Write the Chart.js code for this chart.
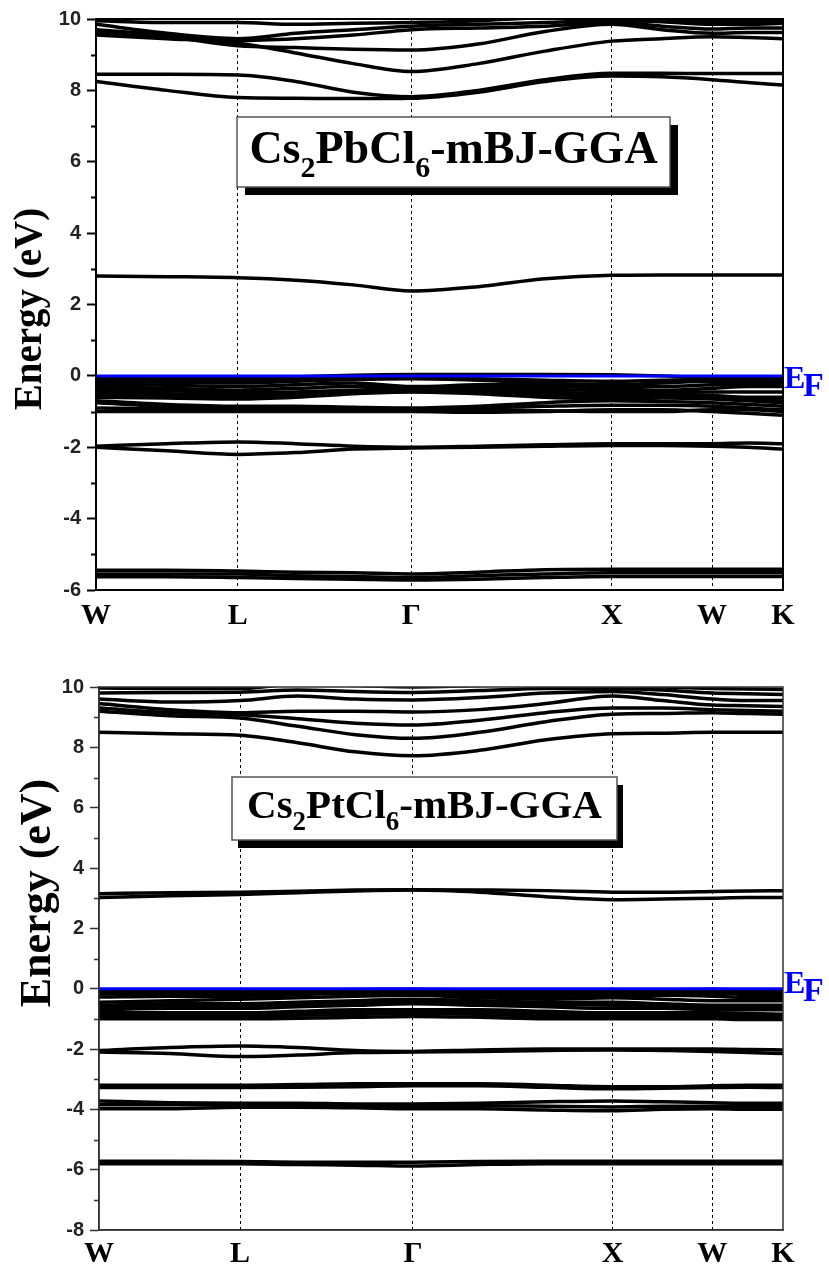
<!DOCTYPE html>
<html>
<head>
<meta charset="utf-8">
<script src="https://cdn.jsdelivr.net/npm/chart.js@4.4.1/dist/chart.umd.min.js"></script>
<style>
  html, body { margin: 0; padding: 0; background: #fff; }
  canvas { position: absolute; left: 0; }
  #pbChart { top: 0; }
  #ptChart { top: 640px; }
</style>
</head>
<body>
<canvas id="pbChart" width="829" height="640"></canvas>
<canvas id="ptChart" width="829" height="628"></canvas>
<script>
// k-path W-L-Γ-X-W-K (distance in 2π/a)
const kLabels = ['W', 'L', 'Γ', 'X', 'W', 'K'];
const kTicks = [0, 0.707, 1.573, 2.573, 3.073, 3.427];
const kPath = [0, 0.354, 0.707, 0.996, 1.284, 1.573, 1.906, 2.240, 2.573, 2.823, 3.073, 3.250, 3.427];
const efLevel = 0;

// ---- Cs2PbCl6 bands (eV), values at kPath ----
const pbCore = [
  [-5.45, -5.45, -5.47, -5.50, -5.52, -5.55, -5.50, -5.43, -5.42, -5.42, -5.42, -5.42, -5.42],
  [-5.55, -5.55, -5.55, -5.60, -5.62, -5.65, -5.60, -5.55, -5.52, -5.52, -5.52, -5.52, -5.52],
  [-5.63, -5.63, -5.65, -5.68, -5.70, -5.72, -5.70, -5.65, -5.62, -5.62, -5.62, -5.62, -5.62]
];
const pbMid = [
  [-1.97, -1.90, -1.85, -1.90, -1.97, -2.00, -1.97, -1.93, -1.90, -1.90, -1.90, -1.88, -1.90],
  [-2.00, -2.10, -2.20, -2.15, -2.05, -2.02, -2.00, -1.97, -1.95, -1.95, -1.97, -2.00, -2.05]
];
const pbValence = [
  [-0.05, -0.05, -0.08, -0.03, 0.02, 0.04, 0.04, 0.04, 0.03, 0.00, -0.05, -0.05, -0.05],
  [-0.10, -0.12, -0.14, -0.10, -0.06, -0.05, -0.08, -0.12, -0.15, -0.12, -0.10, -0.10, -0.10],
  [-0.15, -0.18, -0.20, -0.15, -0.10, -0.08, -0.12, -0.20, -0.25, -0.20, -0.15, -0.15, -0.15],
  [-0.22, -0.26, -0.30, -0.25, -0.20, -0.30, -0.25, -0.24, -0.30, -0.30, -0.25, -0.22, -0.22],
  [-0.30, -0.35, -0.40, -0.35, -0.30, -0.32, -0.30, -0.30, -0.35, -0.40, -0.35, -0.30, -0.30],
  [-0.38, -0.42, -0.47, -0.45, -0.40, -0.35, -0.36, -0.38, -0.42, -0.45, -0.45, -0.45, -0.45],
  [-0.45, -0.50, -0.55, -0.50, -0.45, -0.40, -0.42, -0.45, -0.50, -0.50, -0.55, -0.60, -0.60],
  [-0.52, -0.57, -0.60, -0.55, -0.48, -0.43, -0.47, -0.52, -0.58, -0.57, -0.60, -0.65, -0.68],
  [-0.60, -0.62, -0.65, -0.60, -0.50, -0.45, -0.50, -0.60, -0.65, -0.62, -0.65, -0.70, -0.75],
  [-0.70, -0.80, -0.85, -0.85, -0.88, -0.90, -0.85, -0.75, -0.70, -0.72, -0.75, -0.80, -0.85],
  [-0.75, -0.85, -0.90, -0.90, -0.90, -0.92, -0.90, -0.85, -0.82, -0.82, -0.85, -0.90, -0.95],
  [-0.90, -0.92, -0.92, -0.95, -0.95, -0.95, -0.95, -0.98, -1.00, -1.00, -0.95, -0.95, -1.00],
  [-1.00, -1.00, -1.00, -1.00, -1.00, -1.00, -1.02, -1.00, -0.95, -0.95, -1.00, -1.05, -1.10]
];
const pbGap = [
  [2.80, 2.78, 2.75, 2.68, 2.55, 2.38, 2.50, 2.72, 2.82, 2.83, 2.83, 2.83, 2.83]
];
const pbConduction = [
  [8.25, 8.00, 7.80, 7.78, 7.77, 7.78, 7.95, 8.25, 8.40, 8.38, 8.30, 8.22, 8.15],
  [8.45, 8.45, 8.43, 8.25, 7.95, 7.82, 8.00, 8.30, 8.48, 8.48, 8.47, 8.47, 8.47],
  [9.55, 9.45, 9.32, 9.05, 8.75, 8.53, 8.75, 9.10, 9.38, 9.45, 9.50, 9.48, 9.45],
  [9.62, 9.50, 9.25, 9.20, 9.15, 9.13, 9.30, 9.65, 9.85, 9.70, 9.60, 9.62, 9.62],
  [9.70, 9.55, 9.40, 9.45, 9.55, 9.70, 9.75, 9.80, 9.90, 9.80, 9.72, 9.75, 9.75],
  [9.85, 9.60, 9.45, 9.60, 9.70, 9.80, 9.85, 9.90, 9.95, 9.92, 9.85, 9.85, 9.88],
  [9.95, 9.90, 9.90, 9.85, 9.88, 9.90, 9.95, 10.05, 10.10, 10.00, 9.92, 9.92, 9.95],
  [9.98, 10.05, 10.10, 10.20, 10.20, 10.10, 10.10, 10.20, 10.20, 10.10, 9.98, 9.97, 9.97]
];

// ---- Cs2PtCl6 bands (eV) ----
const ptCore = [
  [-5.72, -5.72, -5.73, -5.75, -5.75, -5.75, -5.73, -5.72, -5.72, -5.72, -5.72, -5.72, -5.72],
  [-5.80, -5.80, -5.80, -5.83, -5.85, -5.88, -5.83, -5.80, -5.80, -5.80, -5.80, -5.80, -5.80]
];
const ptDeep = [
  [-3.72, -3.78, -3.80, -3.80, -3.82, -3.82, -3.80, -3.75, -3.72, -3.75, -3.78, -3.80, -3.80],
  [-3.85, -3.85, -3.85, -3.85, -3.88, -3.90, -3.88, -3.90, -3.92, -3.90, -3.90, -3.90, -3.90],
  [-3.98, -3.98, -3.93, -3.93, -3.95, -3.98, -3.98, -4.02, -4.05, -4.00, -3.98, -4.00, -4.00],
  [-3.20, -3.20, -3.20, -3.18, -3.15, -3.15, -3.15, -3.20, -3.25, -3.25, -3.22, -3.20, -3.20],
  [-3.28, -3.28, -3.28, -3.27, -3.25, -3.22, -3.22, -3.27, -3.32, -3.30, -3.28, -3.27, -3.28]
];
const ptMid = [
  [-2.05, -1.95, -1.90, -1.95, -2.05, -2.08, -2.03, -2.00, -2.00, -2.00, -2.00, -2.02, -2.03],
  [-2.10, -2.15, -2.25, -2.20, -2.12, -2.10, -2.08, -2.05, -2.03, -2.05, -2.08, -2.12, -2.15]
];
const ptValence = [
  [-0.05, -0.05, -0.05, -0.05, -0.03, -0.02, -0.05, -0.08, -0.08, -0.05, -0.02, -0.05, -0.05],
  [-0.10, -0.10, -0.10, -0.08, -0.06, -0.05, -0.10, -0.15, -0.18, -0.10, -0.08, -0.12, -0.15],
  [-0.18, -0.15, -0.15, -0.12, -0.10, -0.10, -0.15, -0.20, -0.12, -0.15, -0.15, -0.20, -0.25],
  [-0.28, -0.25, -0.25, -0.20, -0.15, -0.15, -0.22, -0.28, -0.25, -0.22, -0.25, -0.30, -0.32],
  [-0.45, -0.40, -0.35, -0.30, -0.25, -0.22, -0.30, -0.35, -0.30, -0.35, -0.40, -0.40, -0.40],
  [-0.55, -0.50, -0.50, -0.45, -0.40, -0.35, -0.40, -0.45, -0.45, -0.50, -0.55, -0.55, -0.55],
  [-0.62, -0.58, -0.57, -0.52, -0.47, -0.43, -0.47, -0.52, -0.55, -0.58, -0.62, -0.62, -0.62],
  [-0.70, -0.65, -0.65, -0.60, -0.55, -0.50, -0.55, -0.60, -0.65, -0.65, -0.70, -0.70, -0.70],
  [-0.80, -0.80, -0.80, -0.75, -0.70, -0.70, -0.70, -0.75, -0.80, -0.80, -0.80, -0.82, -0.85],
  [-0.88, -0.88, -0.85, -0.82, -0.78, -0.76, -0.78, -0.84, -0.88, -0.88, -0.88, -0.90, -0.92],
  [-0.95, -0.95, -0.90, -0.88, -0.85, -0.82, -0.85, -0.92, -0.95, -0.95, -0.95, -0.98, -1.00],
  [-1.00, -1.00, -1.00, -0.98, -0.95, -0.92, -0.95, -1.00, -1.00, -1.00, -1.00, -1.02, -1.02]
];
const ptGap = [
  [3.15, 3.18, 3.20, 3.23, 3.27, 3.28, 3.27, 3.25, 3.20, 3.20, 3.22, 3.24, 3.25],
  [3.02, 3.08, 3.12, 3.18, 3.24, 3.27, 3.20, 3.05, 2.95, 2.97, 3.00, 3.02, 3.02]
];
const ptConduction = [
  [8.50, 8.45, 8.40, 8.15, 7.85, 7.72, 7.90, 8.25, 8.45, 8.47, 8.50, 8.50, 8.50],
  [9.20, 9.05, 8.97, 8.70, 8.42, 8.30, 8.50, 8.85, 9.10, 9.12, 9.15, 9.12, 9.10],
  [9.30, 9.15, 9.08, 8.95, 8.80, 8.74, 8.90, 9.15, 9.30, 9.30, 9.25, 9.22, 9.20],
  [9.45, 9.25, 9.15, 9.20, 9.20, 9.17, 9.25, 9.45, 9.70, 9.55, 9.40, 9.38, 9.35],
  [9.60, 9.50, 9.55, 9.70, 9.60, 9.57, 9.65, 9.80, 9.85, 9.75, 9.60, 9.55, 9.55],
  [9.80, 9.82, 9.83, 9.90, 9.85, 9.82, 9.88, 9.95, 9.95, 9.90, 9.80, 9.78, 9.75],
  [9.97, 9.95, 9.95, 10.10, 10.05, 10.00, 10.05, 10.10, 10.05, 10.00, 9.95, 9.93, 9.92]
];

const serif = '"Liberation Serif", "Times New Roman", serif';
const sans = '"Liberation Sans", Arial, sans-serif';

// frame, minor ticks, label box, E_F mark, y title
const decorPlugin = {
  id: 'decor',
  afterDraw(chart, args, o) {
    const { ctx, chartArea: a, scales: { y } } = chart;
    ctx.save();
    ctx.strokeStyle = o.axisColor;
    ctx.lineWidth = o.axisWidth;
    for (let v = y.min + 1; v < y.max; v += 2) {
      const py = Math.round(y.getPixelForValue(v)) + 0.5;
      ctx.beginPath();
      ctx.moveTo(a.left - 5, py);
      ctx.lineTo(a.left, py);
      ctx.stroke();
    }
    ctx.strokeRect(a.left, a.top, a.right - a.left, a.bottom - a.top);

    // compound label box with shadow
    const b = o.box;
    ctx.fillStyle = '#000';
    ctx.fillRect(b.x + b.sx, b.y + b.sy, b.w, b.h);
    ctx.fillStyle = '#fff';
    ctx.fillRect(b.x, b.y, b.w, b.h);
    ctx.strokeStyle = '#555';
    ctx.lineWidth = 1.5;
    ctx.strokeRect(b.x, b.y, b.w, b.h);
    const big = 'bold ' + b.size + 'px ' + serif;
    const small = 'bold ' + Math.round(b.size * 0.65) + 'px ' + serif;
    let total = 0;
    b.parts.forEach(p => { ctx.font = p[1] ? small : big; total += ctx.measureText(p[0]).width; });
    let tx = b.x + (b.w - total) / 2;
    ctx.fillStyle = '#000';
    ctx.textBaseline = 'alphabetic';
    b.parts.forEach(p => {
      ctx.font = p[1] ? small : big;
      ctx.fillText(p[0], tx, b.base + (p[1] ? b.size * 0.3 : 0));
      tx += ctx.measureText(p[0]).width;
    });

    // E_F label
    const ef = y.getPixelForValue(efLevel);
    ctx.fillStyle = '#0000ff';
    ctx.font = 'bold 32px ' + serif;
    ctx.fillText('E', a.right + 1, ef + o.efDy);
    ctx.font = 'bold 34px ' + serif;
    ctx.fillText('F', a.right + 20, ef + o.efDy + 8);

    // y axis title
    ctx.fillStyle = '#000';
    ctx.font = 'bold ' + o.title.size + 'px ' + serif;
    ctx.translate(o.title.x, o.title.y);
    ctx.rotate(-Math.PI / 2);
    ctx.textAlign = 'center';
    ctx.fillText('Energy (eV)', 0, 0);
    ctx.restore();
  }
};

function makeChart(id, bands, cfg) {
  const datasets = [{
    data: [{ x: kPath[0], y: efLevel }, { x: kPath[kPath.length - 1], y: efLevel }],
    borderColor: '#0000ff', borderWidth: 3, pointRadius: 0, clip: 0
  }];
  bands.forEach(b => datasets.push({
    data: b.map((e, i) => ({ x: kPath[i], y: e })),
    borderColor: '#000', borderWidth: 3.5, pointRadius: 0,
    cubicInterpolationMode: 'monotone', clip: 0
  }));

  return new Chart(document.getElementById(id), {
    type: 'line',
    data: { datasets },
    options: {
      responsive: false,
      animation: false,
      layout: { padding: { top: cfg.top, right: 46, left: 0, bottom: 0 } },
      plugins: { legend: { display: false }, tooltip: { enabled: false }, decor: cfg.decor },
      scales: {
        x: {
          type: 'linear', min: 0, max: kTicks[kTicks.length - 1],
          afterBuildTicks: s => { s.ticks = kTicks.map(v => ({ value: v })); },
          afterFit: s => { s.height = cfg.xHeight; },
          ticks: {
            autoSkip: false, maxRotation: 0, padding: cfg.xPad,
            callback: (v, i) => kLabels[i],
            color: '#000', font: { family: serif, weight: 'bold', size: 30 }
          },
          grid: {
            drawTicks: false, lineWidth: 1,
            color: c => (c.index === 0 || c.index === kTicks.length - 1) ? 'rgba(0,0,0,0)' : '#000'
          },
          border: { color: cfg.decor.axisColor, width: cfg.decor.axisWidth, dash: [3, 3] }
        },
        y: {
          min: cfg.yMin, max: 10,
          afterFit: s => { s.width = cfg.left; },
          ticks: { stepSize: 2, padding: 6, color: '#222', font: { family: sans, weight: 'bold', size: 20 } },
          grid: { drawOnChartArea: false, tickLength: 9, tickColor: cfg.decor.axisColor, tickWidth: cfg.decor.axisWidth },
          border: { color: cfg.decor.axisColor, width: cfg.decor.axisWidth }
        }
      }
    },
    plugins: [decorPlugin]
  });
}

makeChart('pbChart', [].concat(pbCore, pbMid, pbValence, pbGap, pbConduction), {
  top: 19, left: 96, xHeight: 50, xPad: 8, yMin: -6,
  decor: {
    axisColor: '#000', axisWidth: 2, efDy: 12,
    title: { x: 41, y: 309, size: 39 },
    box: { x: 237, y: 117, w: 433, h: 70, sx: 8, sy: 8, size: 46, base: 163,
      parts: [['Cs', 0], ['2', 1], ['PbCl', 0], ['6', 1], ['-mBJ-GGA', 0]] }
  }
});

makeChart('ptChart', [].concat(ptCore, ptDeep, ptMid, ptValence, ptGap, ptConduction), {
  top: 47, left: 99, xHeight: 38, xPad: 6, yMin: -8,
  decor: {
    axisColor: '#333', axisWidth: 1.5, efDy: 4,
    title: { x: 50, y: 253, size: 44 },
    box: { x: 232, y: 137, w: 385, h: 63, sx: 6, sy: 8, size: 41, base: 178,
      parts: [['Cs', 0], ['2', 1], ['PtCl', 0], ['6', 1], ['-mBJ-GGA', 0]] }
  }
});
</script>
</body>
</html>
